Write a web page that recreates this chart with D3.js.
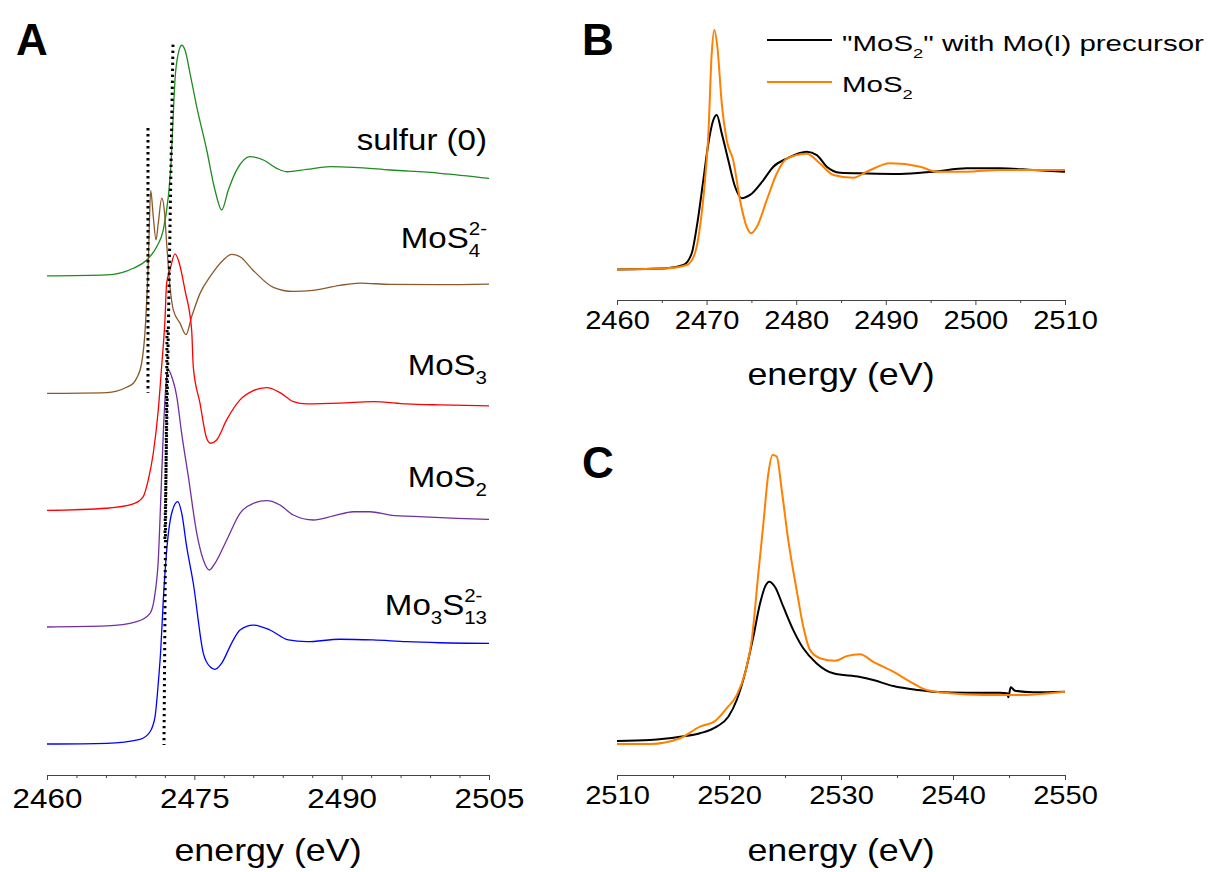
<!DOCTYPE html>
<html><head><meta charset="utf-8">
<script src="https://cdn.jsdelivr.net/npm/d3@7/dist/d3.min.js"></script>
<style>
body{margin:0;background:#fff}
svg{display:block}
text{font-family:"Liberation Sans",Arial,sans-serif;fill:#000}
</style>
</head><body>
<svg id="chart" width="1208" height="872"></svg>
<script>
// ---------------- DATA ----------------
// Panel A: S K-edge XANES, normalized absorbance [energy (eV), value]; stacked with offsets
const sulfur0 = [[2460.0,0],[2466.08,0.01],[2468.79,0.075],[2470.15,0.155],[2471.17,0.284],[2471.84,0.447],[2472.35,0.77],[2472.63,1.094],[2472.86,1.58],[2473.03,1.903],[2473.37,2.162],[2473.71,2.24],[2474.05,2.194],[2474.56,1.968],[2475.24,1.644],[2476.26,1.223],[2477.10,0.835],[2477.79,0.641],[2478.46,0.835],[2479.32,1.03],[2480.67,1.158],[2482.03,1.126],[2483.39,1.045],[2484.41,1.012],[2486.44,1.035],[2488.82,1.061],[2491.19,1.055],[2494.92,1.029],[2500.01,0.997],[2505.0,0.948]];
const mos4 = [[2460.0,0],[2466.08,0.008],[2468.11,0.06],[2468.79,0.098],[2469.13,0.148],[2469.64,0.296],[2469.98,0.6],[2470.31,1.26],[2470.56,1.97],[2470.82,1.716],[2471.10,1.49],[2471.33,1.654],[2471.68,1.895],[2471.94,1.782],[2472.18,1.459],[2472.52,1.038],[2472.86,0.811],[2473.54,0.682],[2474.15,0.57],[2474.73,0.745],[2475.58,0.971],[2476.60,1.133],[2477.95,1.296],[2478.80,1.35],[2479.65,1.327],[2481.0,1.194],[2483.04,1.03],[2485.08,0.99],[2487.11,1.0],[2489.83,1.049],[2491.87,1.071],[2494.92,1.058],[2500.01,1.055],[2505.0,1.06]];
const mos3 = [[2460.0,0],[2466.08,0.021],[2468.78,0.063],[2469.80,0.134],[2470.31,0.296],[2470.82,0.555],[2471.33,0.976],[2471.67,1.396],[2472.01,1.85],[2472.18,2.206],[2472.52,2.335],[2473.03,2.49],[2473.47,2.4],[2474.05,2.136],[2474.73,1.748],[2474.89,1.396],[2475.57,1.044],[2476.25,0.701],[2476.66,0.652],[2477.27,0.684],[2478.29,0.879],[2479.65,1.073],[2481.01,1.163],[2482.37,1.192],[2483.72,1.144],[2485.08,1.056],[2486.44,1.034],[2489.83,1.041],[2493.22,1.056],[2496.62,1.034],[2500.01,1.024],[2505.0,1.015]];
const mos2 = [[2460.0,0],[2466.08,0.01],[2469.13,0.052],[2470.49,0.133],[2471.0,0.327],[2471.33,0.65],[2471.58,1.233],[2471.84,1.88],[2472.12,2.366],[2472.35,2.495],[2472.70,2.43],[2473.21,2.236],[2473.71,1.88],[2474.39,1.459],[2475.25,0.909],[2475.92,0.65],[2476.53,0.553],[2477.10,0.618],[2478.30,0.845],[2479.65,1.104],[2481.01,1.201],[2482.37,1.226],[2483.72,1.184],[2485.08,1.087],[2487.12,1.039],[2489.15,1.078],[2491.19,1.119],[2492.89,1.119],[2494.93,1.087],[2498.32,1.07],[2501.72,1.055],[2505.0,1.045]];
const mo3s13 = [[2460.0,0],[2466.08,0.007],[2469.47,0.046],[2470.49,0.119],[2471.0,0.265],[2471.33,0.592],[2471.58,0.913],[2471.84,1.398],[2472.19,1.883],[2472.70,2.243],[2473.31,2.353],[2473.71,2.243],[2474.22,1.916],[2474.89,1.563],[2475.91,0.883],[2476.60,0.75],[2477.10,0.725],[2477.79,0.786],[2478.80,0.98],[2479.65,1.107],[2481.0,1.155],[2482.70,1.107],[2484.57,1.01],[2486.44,0.993],[2489.83,1.017],[2493.19,1.01],[2496.62,0.993],[2500.01,0.983],[2505.0,0.977]];
const namesA   = ["sulfur (0)", "MoS4 2-", "MoS3", "MoS2", "Mo3S13 2-"];
const offsetsA = [4.544, 3.404, 2.268, 1.136, 0];
// dotted guide lines in panel A: [energyTop, levelTop, energyBottom, levelBottom]
const guidesA = [[2470.28,5.98,2470.28,3.41],[2472.83,6.79,2472.0,1.98],[2472.22,4.02,2471.91,-0.01]];
const ticksA = [2460, 2475, 2490, 2505];

// Panel B: S K-edge comparison
const bPrecursor = [[2460,0],[2465.55,0.012],[2467.41,0.045],[2468.34,0.164],[2468.9,0.43],[2469.63,0.9],[2470.2,1.275],[2470.75,1.51],[2471.13,1.56],[2471.69,1.375],[2472.43,1.1],[2473.18,0.836],[2473.92,0.72],[2474.85,0.753],[2476.34,0.904],[2477.45,1.038],[2478.95,1.12],[2481.18,1.19],[2482.3,1.156],[2483.41,1.038],[2484.9,0.978],[2487.88,0.97],[2491.6,0.965],[2495.33,0.988],[2499.03,1.022],[2502.75,1.022],[2506.46,1.005],[2510,0.988]];
const bMoS2 = [[2460,0],[2465.55,0.012],[2467.78,0.045],[2468.7,0.164],[2469.26,0.43],[2469.82,0.9],[2470.2,1.375],[2470.57,2.18],[2470.86,2.42],[2471.2,2.25],[2471.69,1.68],[2472.25,1.305],[2472.98,1.1],[2473.73,0.7],[2474.48,0.43],[2474.93,0.366],[2475.6,0.43],[2476.71,0.7],[2477.83,0.97],[2478.95,1.12],[2481.18,1.17],[2482.66,1.07],[2484.15,0.955],[2486.38,0.927],[2487.88,0.988],[2490.48,1.073],[2493.83,1.038],[2495.69,0.988],[2499.03,0.988],[2502.75,1.005],[2510,1.005]];
const ticksB = [2460, 2470, 2480, 2490, 2500, 2510];

// Panel C: Mo L-edge comparison
const cPrecursor = [[2510,0.058],[2512.95,0.077],[2515.63,0.14],[2517.41,0.206],[2518.9,0.333],[2519.94,0.525],[2520.69,0.846],[2521.43,1.36],[2522.17,2.06],[2522.77,2.7],[2523.21,3.02],[2523.6,3.12],[2524.11,3.02],[2524.85,2.64],[2525.74,2.19],[2526.63,1.84],[2527.83,1.55],[2529.31,1.36],[2531.7,1.29],[2532.88,1.23],[2534.67,1.115],[2536.76,1.04],[2538.24,1.005],[2541.22,0.987],[2544.2,0.987],[2544.85,0.975],[2544.94,0.9],[2545.15,1.09],[2545.54,1.025],[2547.17,0.994],[2550,1.005]];
const cMoS2 = [[2510,0],[2512.95,0],[2515.63,0.11],[2517.41,0.333],[2518.75,0.44],[2519.79,0.686],[2520.69,0.94],[2521.43,1.36],[2522.03,2.0],[2522.62,3.28],[2523.07,4.24],[2523.51,5.2],[2523.9,5.56],[2524.26,5.53],[2524.71,4.88],[2525.29,3.92],[2526.04,2.96],[2526.63,2.26],[2527.23,1.81],[2528.13,1.65],[2529.46,1.6],[2530.51,1.69],[2531.7,1.725],[2532.88,1.58],[2534.67,1.39],[2536.16,1.2],[2537.65,1.04],[2539.73,0.975],[2542.71,0.94],[2545.69,0.94],[2550,1.005]];
const ticksC = [2510, 2520, 2530, 2540, 2550];

const legendLabels = ['"MoS2" with Mo(I) precursor', 'MoS2'];

// ---------------- DRAWING ----------------
const svg = d3.select("#chart");
const colorsA = ["#1e8c1e", "#8b5a2b", "#ff0000", "#7030a0", "#0000ff"];
const seriesA = [sulfur0, mos4, mos3, mos2, mo3s13];

const xA = d3.scaleLinear().domain([2460, 2505]).range([47, 489]);
const yA = d3.scaleLinear().domain([0, 1]).range([744, 641]);
const xB = d3.scaleLinear().domain([2460, 2510]).range([617, 1065]);
const yB = d3.scaleLinear().domain([0, 1]).range([269.5, 170.5]);
const xC = d3.scaleLinear().domain([2510, 2550]).range([617, 1065]);
const yC = d3.scaleLinear().domain([0, 1]).range([744, 692]);

const SX = 1.12; // horizontal stretch of text

function drawAxis(x, yPos, majors, minorStep, fontSize, labelOff) {
  const g = svg.append("g").attr("transform", `translate(0,${yPos})`);
  const d = x.domain();
  const minors = d3.range(d[0], d[1] + 0.001, minorStep).filter(v => !majors.includes(v));
  g.append("g").call(d3.axisBottom(x).tickValues(minors).tickSize(3).tickSizeOuter(0).tickFormat(""))
    .call(s => s.select(".domain").remove())
    .call(s => s.selectAll("line").attr("stroke", "#444"));
  const ga = g.append("g").call(d3.axisBottom(x).tickValues(majors).tickSize(5).tickSizeOuter(0).tickFormat(d3.format("d")));
  ga.select(".domain").attr("stroke", "#444").attr("stroke-width", 1.2);
  ga.selectAll("line").attr("stroke", "#444");
  ga.selectAll("text").attr("y", labelOff).attr("dy", 0)
    .attr("font-size", fontSize).attr("font-family", '"Liberation Sans", Arial, sans-serif')
    .attr("fill", "#000").attr("transform", `scale(${SX},1)`);
  return g;
}

function axisTitle(x, yBase) {
  const r = x.range();
  svg.append("text").attr("transform", `translate(${(r[0] + r[1]) / 2},${yBase}) scale(${SX},1)`)
    .attr("text-anchor", "middle").attr("font-size", 32).text("energy (eV)");
}

// rich label with subscripts / stacked sub+sup; parts: [{t}, {sub}, {sub, sup}]
function richLabel(parts, x, y, size, sx, anchorRight) {
  const outer = svg.append("g").attr("transform", `translate(${x},${y}) scale(${sx},1)`);
  const g = outer.append("g");
  let cur = 0;
  parts.forEach(p => {
    if (p.t !== undefined) {
      const t = g.append("text").attr("x", cur).attr("y", 0).attr("font-size", size).text(p.t);
      cur += t.node().getComputedTextLength();
    } else {
      let w = 0;
      if (p.sub) {
        const t = g.append("text").attr("x", cur).attr("y", size * 0.3).attr("font-size", size * 0.62).text(p.sub);
        w = Math.max(w, t.node().getComputedTextLength());
      }
      if (p.sup) {
        const t = g.append("text").attr("x", cur).attr("y", -size * 0.46).attr("font-size", size * 0.62).text(p.sup);
        w = Math.max(w, t.node().getComputedTextLength());
      }
      cur += w;
    }
  });
  if (anchorRight) g.attr("transform", `translate(${-cur},0)`);
  return cur;
}

// ---- Panel A ----
const lineA = (off) => d3.line().x(d => xA(d[0])).y(d => yA(d[1] + off)).curve(d3.curveMonotoneX);
seriesA.forEach((s, i) => {
  svg.append("path").datum(s).attr("d", lineA(offsetsA[i])).attr("fill", "none")
    .attr("stroke", colorsA[i]).attr("stroke-width", 1.3);
});
guidesA.forEach(g => {
  svg.append("line").attr("x1", xA(g[0])).attr("y1", yA(g[1])).attr("x2", xA(g[2])).attr("y2", yA(g[3]))
    .attr("stroke", "#000").attr("stroke-width", 3).attr("stroke-dasharray", "2.4 3.6");
});
drawAxis(xA, 775, ticksA, 3, 28, 33);
axisTitle(xA, 861);

const labelPartsA = [
  [{t: "sulfur (0)"}],
  [{t: "MoS"}, {sub: "4", sup: "2-"}],
  [{t: "MoS"}, {sub: "3"}],
  [{t: "MoS"}, {sub: "2"}],
  [{t: "Mo"}, {sub: "3"}, {t: "S"}, {sub: "13", sup: "2-"}]
];
const labelBaseA = [150, 248, 375, 487, 615];
labelPartsA.forEach((p, i) => richLabel(p, 487, labelBaseA[i], 29, 1.14, true));

// ---- Panel B ----
const lineB = d3.line().x(d => xB(d[0])).y(d => yB(d[1])).curve(d3.curveMonotoneX);
svg.append("path").datum(bPrecursor).attr("d", lineB).attr("fill", "none").attr("stroke", "#000").attr("stroke-width", 2);
svg.append("path").datum(bMoS2).attr("d", lineB).attr("fill", "none").attr("stroke", "#ff8000").attr("stroke-width", 2);
drawAxis(xB, 300, ticksB, 5, 26, 29);
axisTitle(xB, 385);

// ---- Panel C ----
const lineC = d3.line().x(d => xC(d[0])).y(d => yC(d[1])).curve(d3.curveMonotoneX);
svg.append("path").datum(cPrecursor).attr("d", lineC).attr("fill", "none").attr("stroke", "#000").attr("stroke-width", 2);
svg.append("path").datum(cMoS2).attr("d", lineC).attr("fill", "none").attr("stroke", "#ff8000").attr("stroke-width", 2);
drawAxis(xC, 775, ticksC, 5, 26, 29);
axisTitle(xC, 861);

// ---- Legend (panel B) ----
const legColors = ["#000", "#ff8000"];
const legY = [40, 82];
legendLabels.forEach((lab, i) => {
  svg.append("line").attr("x1", 767).attr("x2", 832).attr("y1", legY[i]).attr("y2", legY[i])
    .attr("stroke", legColors[i]).attr("stroke-width", 2);
});
richLabel([{t: '"MoS'}, {sub: "2"}, {t: '" with Mo(I) precursor'}], 842, 51, 22, 1.34, false);
richLabel([{t: "MoS"}, {sub: "2"}], 842, 92, 22, 1.34, false);

// ---- Panel letters ----
const letters = [["A", 16, 55], ["B", 582, 55], ["C", 582, 478]];
letters.forEach(l => svg.append("text").attr("x", l[1]).attr("y", l[2])
  .attr("font-family", '"Open Sans", "Liberation Sans", sans-serif').attr("font-weight", "bold")
  .attr("font-size", 44).text(l[0]));
</script>
</body></html>
